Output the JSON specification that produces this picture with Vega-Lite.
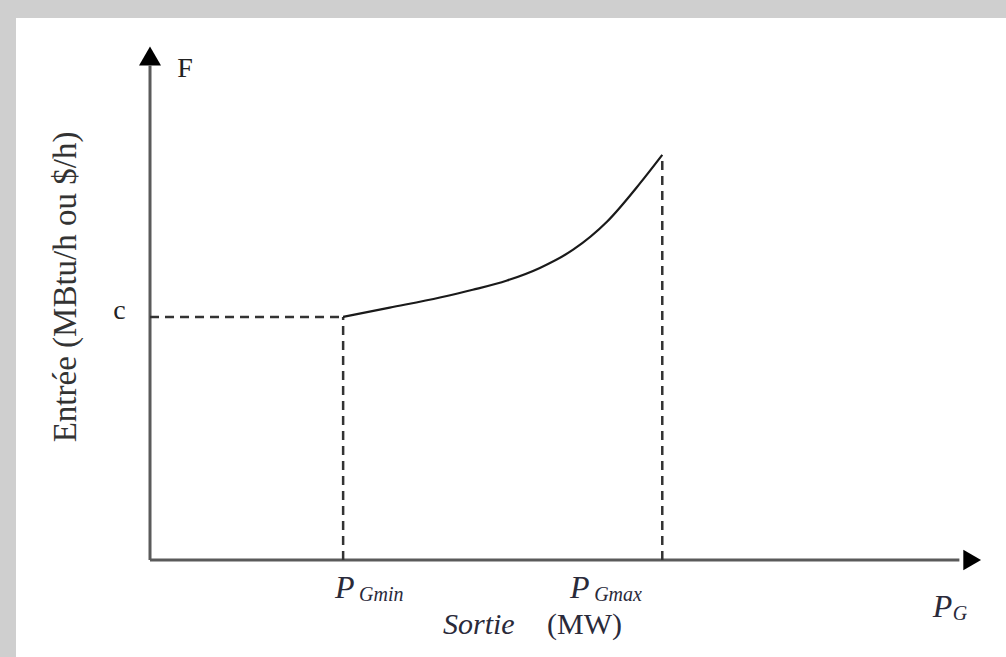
{
  "$schema": "https://vega.github.io/schema/vega-lite/v6.json",
  "width": 990,
  "height": 639,
  "autosize": {"type": "none"},
  "padding": {"left": 16, "top": 18, "right": 0, "bottom": 0},
  "background": "#cfcfcf",
  "config": {"view": {"stroke": null, "fill": "white"}},
  "datasets": {
    "axes": [
      {"x": 0, "y": 0, "x2": 0, "y2": 122},
      {"x": 0, "y": 0, "x2": 158, "y2": 0}
    ],
    "arrowUp": [{"x": 0, "y": 124.4}],
    "arrowRight": [{"x": 160.5, "y": 0}],
    "dashes": [
      {"x": 0, "y": 60, "x2": 37.7, "y2": 60},
      {"x": 37.7, "y": 0, "x2": 37.7, "y2": 60},
      {"x": 100, "y": 0, "x2": 100, "y2": 100}
    ],
    "curve": [
      {"x": 37.7, "y": 60},
      {"x": 46.8, "y": 62.3},
      {"x": 56.6, "y": 64.8},
      {"x": 63.0, "y": 66.7},
      {"x": 69.7, "y": 69.0},
      {"x": 76.1, "y": 72.1},
      {"x": 82.6, "y": 76.6},
      {"x": 89.2, "y": 83.5},
      {"x": 95.6, "y": 92.9},
      {"x": 100, "y": 100}
    ],
    "plainLabels": [
      {"label": "F", "x": 5.3, "y": 119.3},
      {"label": "c", "x": -7.2, "y": 59.5}
    ],
    "bigP": [
      {"label": "P", "x": 36.1, "y": -9.4},
      {"label": "P", "x": 82.0, "y": -9.4},
      {"label": "P", "x": 152.8, "y": -14.1}
    ],
    "subs": [
      {"label": "Gmin", "x": 40.8, "y": -10.1},
      {"label": "Gmax", "x": 86.7, "y": -10.1},
      {"label": "G", "x": 156.7, "y": -14.8}
    ],
    "sortie": [{"label": "Sortie", "x": 57.2, "y": -18.3}],
    "mw": [{"label": "(MW)", "x": 77.5, "y": -18.3}],
    "ytitle": [{"label": "Entrée (MBtu/h ou $/h)", "x": -16.4, "y": 67.4}]
  },
  "layer": [
    {
      "data": {"name": "axes"},
      "mark": {"type": "rule", "color": "#5a5a5a", "strokeWidth": 3},
      "encoding": {
        "x": {"field": "x", "type": "quantitative", "scale": {"domain": [-26.16, 167.1], "nice": false, "zero": false}, "axis": null},
        "y": {"field": "y", "type": "quantitative", "scale": {"domain": [-23.95, 133.8], "nice": false, "zero": false}, "axis": null},
        "x2": {"field": "x2"},
        "y2": {"field": "y2"}
      }
    },
    {
      "data": {"name": "arrowUp"},
      "mark": {"type": "point", "shape": "triangle-up", "filled": true, "color": "black", "opacity": 1, "size": 484},
      "encoding": {
        "x": {"field": "x", "type": "quantitative"},
        "y": {"field": "y", "type": "quantitative"}
      }
    },
    {
      "data": {"name": "arrowRight"},
      "mark": {"type": "point", "shape": "triangle-right", "filled": true, "color": "black", "opacity": 1, "size": 420},
      "encoding": {
        "x": {"field": "x", "type": "quantitative"},
        "y": {"field": "y", "type": "quantitative"}
      }
    },
    {
      "data": {"name": "dashes"},
      "mark": {"type": "rule", "color": "#333333", "strokeWidth": 2.5, "strokeDash": [9, 6]},
      "encoding": {
        "x": {"field": "x", "type": "quantitative"},
        "y": {"field": "y", "type": "quantitative"},
        "x2": {"field": "x2"},
        "y2": {"field": "y2"}
      }
    },
    {
      "data": {"name": "curve"},
      "mark": {"type": "line", "color": "#1a1a1a", "strokeWidth": 2.2, "interpolate": "monotone"},
      "encoding": {
        "x": {"field": "x", "type": "quantitative"},
        "y": {"field": "y", "type": "quantitative"}
      }
    },
    {
      "data": {"name": "plainLabels"},
      "mark": {"type": "text", "font": "Liberation Serif", "fontSize": 28, "align": "left", "baseline": "alphabetic", "color": "#222222"},
      "encoding": {
        "x": {"field": "x", "type": "quantitative"},
        "y": {"field": "y", "type": "quantitative"},
        "text": {"field": "label"}
      }
    },
    {
      "data": {"name": "bigP"},
      "mark": {"type": "text", "font": "Liberation Serif", "fontStyle": "italic", "fontSize": 32, "align": "left", "baseline": "alphabetic", "color": "#2a2a3a"},
      "encoding": {
        "x": {"field": "x", "type": "quantitative"},
        "y": {"field": "y", "type": "quantitative"},
        "text": {"field": "label"}
      }
    },
    {
      "data": {"name": "subs"},
      "mark": {"type": "text", "font": "Liberation Serif", "fontStyle": "italic", "fontSize": 20, "align": "left", "baseline": "alphabetic", "color": "#2a2a3a"},
      "encoding": {
        "x": {"field": "x", "type": "quantitative"},
        "y": {"field": "y", "type": "quantitative"},
        "text": {"field": "label"}
      }
    },
    {
      "data": {"name": "sortie"},
      "mark": {"type": "text", "font": "Liberation Serif", "fontStyle": "italic", "fontSize": 30, "align": "left", "baseline": "alphabetic", "color": "#2a2a3a"},
      "encoding": {
        "x": {"field": "x", "type": "quantitative"},
        "y": {"field": "y", "type": "quantitative"},
        "text": {"field": "label"}
      }
    },
    {
      "data": {"name": "mw"},
      "mark": {"type": "text", "font": "Liberation Serif", "fontSize": 30, "align": "left", "baseline": "alphabetic", "color": "#2a2a3a"},
      "encoding": {
        "x": {"field": "x", "type": "quantitative"},
        "y": {"field": "y", "type": "quantitative"},
        "text": {"field": "label"}
      }
    },
    {
      "data": {"name": "ytitle"},
      "mark": {"type": "text", "font": "Liberation Serif", "fontSize": 33, "angle": 270, "align": "center", "baseline": "middle", "color": "#333333"},
      "encoding": {
        "x": {"field": "x", "type": "quantitative"},
        "y": {"field": "y", "type": "quantitative"},
        "text": {"field": "label"}
      }
    }
  ]
}
